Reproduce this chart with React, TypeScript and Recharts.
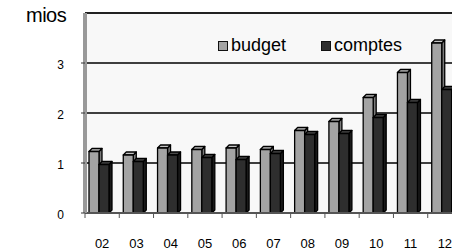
import { BarChart, Bar, XAxis, YAxis, CartesianGrid, Legend, ReferenceLine } from 'recharts'

const years = ['02', '03', '04', '05', '06', '07', '08', '09', '10', '11', '12']
const budget = [1.23, 1.16, 1.3, 1.27, 1.3, 1.27, 1.65, 1.83, 2.31, 2.81, 3.4]
const comptes = [0.97, 1.03, 1.16, 1.11, 1.07, 1.19, 1.57, 1.59, 1.91, 2.21, 2.47]
const yTicks = [0, 1, 2, 3]

const data = years.map((y, i) => ({ year: y, budget: budget[i], comptes: comptes[i] }))

const FONT = 'Arial, "Liberation Sans", sans-serif'
const BUDGET = '#a3a3a3'
const COMPTES = '#2e2e2e'

// little excel-style 3d box
function Box3D(props: any) {
  const { x, y, width, height, fill, top, side } = props
  if (!height || height <= 0) return null
  const d = 3
  const bx = x - 3
  const w = width
  return (
    <g stroke="#000" strokeWidth={1.3} strokeLinejoin="round">
      <polygon points={`${bx + w},${y} ${bx + w + d},${y - d} ${bx + w + d},${y + height - d} ${bx + w},${y + height}`} fill={side} />
      <polygon points={`${bx},${y} ${bx + d},${y - d} ${bx + w + d},${y - d} ${bx + w},${y}`} fill={top} />
      <rect x={bx} y={y} width={w} height={height} fill={fill} />
    </g>
  )
}

function XTick(props: any) {
  const { x, y, payload } = props
  const half = 377 / 11 / 2
  return (
    <g>
      <line x1={x - half} y1={y} x2={x - half} y2={y + 5} stroke="#555" strokeWidth={1} />
      <text x={x} y={y + 35} textAnchor="middle" fontSize={13} fontFamily={FONT} fill="#000">
        {payload.value}
      </text>
    </g>
  )
}

function YTick(props: any) {
  const { x, y, payload } = props
  return (
    <text x={x + 1} y={y + 6} textAnchor="end" fontSize={12} fontFamily={FONT} fill="#000">
      {payload.value}
    </text>
  )
}

function LegendBox() {
  const item = (label: string, color: string, ml: number) => (
    <div style={{ display: 'flex', alignItems: 'center', marginLeft: ml }}>
      <span style={{ display: 'inline-block', width: 8, height: 8, background: color, border: '1.5px solid #111', marginRight: 3 }} />
      <span style={{ fontSize: 18, fontFamily: FONT, color: '#000' }}>{label}</span>
    </div>
  )
  return (
    <div style={{ display: 'flex', whiteSpace: 'nowrap' }}>
      {item('budget', BUDGET, 0)}
      {item('comptes', COMPTES, 35)}
    </div>
  )
}

export default function App() {
  return (
    <div style={{ position: 'absolute', left: 0, top: 0, width: 452, height: 250, overflow: 'hidden', background: '#fff' }}>
      <div style={{ position: 'absolute', left: 26, top: 4, fontSize: 20, fontFamily: FONT, letterSpacing: -0.5, whiteSpace: 'nowrap' }}>
        mios
      </div>
      <BarChart
        width={470}
        height={250}
        data={data}
        margin={{ top: 13, right: 8, bottom: 0, left: 0 }}
        barSize={10}
        barGap={0}
      >
        <CartesianGrid vertical={false} stroke="#000" strokeWidth={1.5} fill="#f8f8f8" />
        <ReferenceLine y={4} stroke="#222" strokeWidth={2} />
        <XAxis
          dataKey="year"
          height={37}
          tickSize={0}
          tickMargin={0}
          tickLine={false}
          tick={<XTick />}
          axisLine={{ stroke: '#555', strokeWidth: 2 }}
          interval={0}
        />
        <YAxis
          width={85}
          domain={[0, 4]}
          ticks={yTicks}
          tickSize={4}
          tickMargin={18}
          tick={<YTick />}
          tickLine={{ stroke: '#333' }}
          axisLine={{ stroke: '#999', strokeWidth: 4 }}
        />
        <Legend
          layout="vertical"
          align="center"
          verticalAlign="middle"
          wrapperStyle={{ left: 218, top: 35, width: 'auto' }}
          content={() => <LegendBox />}
        />
        <Bar dataKey="budget" fill={BUDGET} isAnimationActive={false} shape={<Box3D top="#c4c4c4" side="#7a7a7a" />} />
        <Bar dataKey="comptes" fill={COMPTES} isAnimationActive={false} shape={<Box3D top="#4a4a4a" side="#1a1a1a" />} />
      </BarChart>
    </div>
  )
}
